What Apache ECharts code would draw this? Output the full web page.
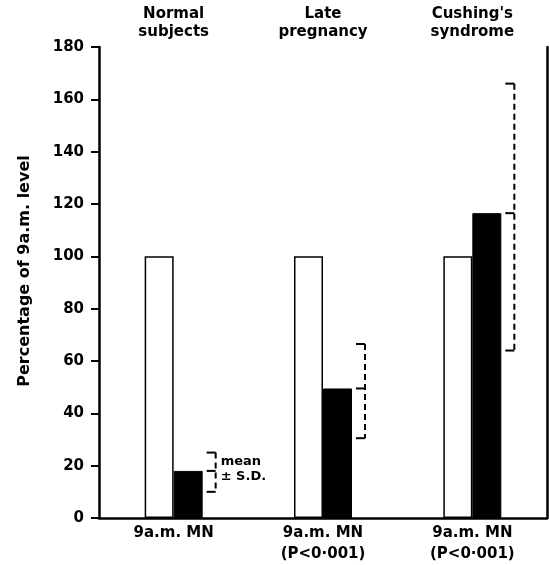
<!DOCTYPE html>
<html><head><meta charset="utf-8">
<script src="https://cdn.jsdelivr.net/npm/echarts@6/dist/echarts.min.js"></script>
<style>html,body{margin:0;padding:0;background:#fff}#c{width:549px;height:565px}</style>
</head><body><div id="c"></div>
<script>
var groups = ["Normal\nsubjects", "Late\npregnancy", "Cushing's\nsyndrome"];
var xLabels = ["9a.m. MN", "9a.m. MN\n(P<0·001)", "9a.m. MN\n(P<0·001)"];
var nineAM = [100, 100, 100];
var midnight = [18, 49.5, 116.5];
var sdLow = [10, 30.5, 64];
var sdHigh = [25, 66.5, 166];
var yTicks = [0, 20, 40, 60, 80, 100, 120, 140, 160, 180];
var yTitle = "Percentage of 9a.m. level";

var FONT = "DejaVu Sans";
var errData = midnight.map(function (m, i) { return [i, sdLow[i], sdHigh[i], m]; });

var chart = echarts.init(document.getElementById('c'));
chart.setOption({
  animation: false,
  backgroundColor: '#fff',
  grid: { left: 99, right: 2, top: 47, bottom: 46 },
  graphic: [{
    type: 'text', x: 25, y: 271, rotation: Math.PI / 2,
    style: { text: yTitle, fill: '#000', font: 'bold 16px ' + FONT, align: 'center', verticalAlign: 'middle' }
  }],
  xAxis: [{
    type: 'category', data: xLabels, position: 'bottom',
    axisLine: { lineStyle: { color: '#000', width: 2.5 } },
    axisTick: { show: false },
    axisLabel: { color: '#000', fontFamily: FONT, fontWeight: 'bold', fontSize: 15, lineHeight: 21, margin: 5 }
  }, {
    type: 'category', data: groups, position: 'top',
    axisLine: { show: false }, axisTick: { show: false },
    axisLabel: { color: '#000', fontFamily: FONT, fontWeight: 'bold', fontSize: 15, lineHeight: 18, margin: 6 }
  }],
  yAxis: [{
    type: 'value', min: 0, max: 180, interval: 20,
    axisLine: { show: true, lineStyle: { color: '#000', width: 2.5 } },
    axisTick: { show: true, length: 8, lineStyle: { color: '#000', width: 2 } },
    axisLabel: { color: '#000', fontFamily: FONT, fontWeight: 'bold', fontSize: 15, margin: 15,
      formatter: function (v) { return yTicks.indexOf(v) >= 0 ? String(v) : ''; } },
    splitLine: { show: false }
  }, {
    type: 'value', min: 0, max: 180, interval: 20, position: 'right',
    axisLine: { show: true, lineStyle: { color: '#000', width: 2.5 } },
    axisTick: { show: false }, axisLabel: { show: false }, splitLine: { show: false }
  }],
  series: [{
    type: 'bar', data: nineAM, barWidth: 29, barGap: '0%',
    itemStyle: { color: '#fff', borderColor: '#000', borderWidth: 1.5 }
  }, {
    type: 'bar', data: midnight, barWidth: 29, barGap: '0%',
    itemStyle: { color: '#000', borderColor: '#000', borderWidth: 1 }
  }, {
    type: 'custom', data: errData,
    renderItem: function (params, api) {
      var c = api.coord([api.value(0), api.value(3)]);
      var lo = api.coord([api.value(0), api.value(1)]);
      var hi = api.coord([api.value(0), api.value(2)]);
      var x = c[0] + 42;
      var st = { stroke: '#000', lineWidth: 2, lineDash: [6, 4], fill: null };
      var solid = { stroke: '#000', lineWidth: 2, fill: null };
      var children = [
        { type: 'line', shape: { x1: x, y1: hi[1], x2: x, y2: lo[1] }, style: st },
        { type: 'line', shape: { x1: x - 9, y1: hi[1], x2: x, y2: hi[1] }, style: solid },
        { type: 'line', shape: { x1: x - 9, y1: lo[1], x2: x, y2: lo[1] }, style: solid },
        { type: 'line', shape: { x1: x - 9, y1: c[1], x2: x, y2: c[1] }, style: solid }
      ];
      if (params.dataIndex === 0) {
        children.push({ type: 'text', style: { text: 'mean\n± S.D.', x: x + 5, y: hi[1] + 2,
          fill: '#000', font: 'bold 13px ' + FONT, lineHeight: 15, verticalAlign: 'top' } });
      }
      return { type: 'group', children: children };
    },
    z: 5
  }]
});
</script>
</body></html>
